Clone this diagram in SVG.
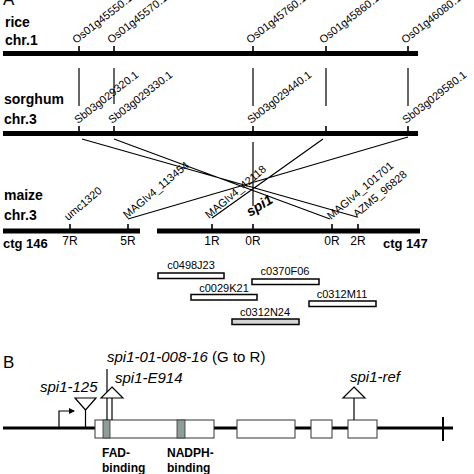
<svg xmlns="http://www.w3.org/2000/svg" width="474" height="474" viewBox="0 0 474 474">
<style>
text{font-family:"Liberation Sans",Arial,sans-serif;fill:#000}
.chr{stroke:#000;stroke-width:5;fill:none}
.tick{stroke:#000;stroke-width:1.6;fill:none}
.lbl{font-size:14px;font-weight:bold}
.mk{font-size:11px}
.pos{font-size:12px;text-anchor:middle}
.con{stroke:#000;stroke-width:1.2;fill:none}
.clone{fill:#fff;stroke:#000;stroke-width:1.5}
.cl{font-size:11px;text-anchor:middle}
.ex{fill:#fff;stroke:#333;stroke-width:1}
.dom{fill:#8e9d99;stroke:#333;stroke-width:0.8}
.it{font-size:15px;font-style:italic}
.tri{fill:#fff;stroke:#000;stroke-width:1.2}
.bl{font-size:12px;font-weight:bold}
</style>
<defs>
<marker id="ah" markerWidth="6" markerHeight="6" refX="5" refY="3" orient="auto" markerUnits="userSpaceOnUse">
<path d="M0,0 L6,3 L0,6 z" fill="#000"/>
</marker>
</defs>

<text x="3" y="5" style="font-size:17px">A</text>

<g id="rice">
<text class="lbl" x="5" y="27">rice</text>
<text class="lbl" x="5" y="45">chr.1</text>
<line class="chr" x1="3" y1="53.5" x2="418" y2="53.5"/>
<path class="tick" d="M79,46V53 M114,46V53 M253,46V53 M326,46V53 M408,46V53"/>
<text class="mk" transform="translate(76,44) rotate(-38)">Os01g45550.1</text>
<text class="mk" transform="translate(111,44) rotate(-38)">Os01g45570.1</text>
<text class="mk" transform="translate(250,44) rotate(-38)">Os01g45760.1</text>
<text class="mk" transform="translate(323,44) rotate(-38)">Os01g45860.1</text>
<text class="mk" transform="translate(405,44) rotate(-38)">Os01g46080.1</text>
</g>

<g id="sorghum">
<text class="lbl" x="4" y="104">sorghum</text>
<text class="lbl" x="4" y="124">chr.3</text>
<line class="chr" x1="3" y1="133.5" x2="418" y2="133.5"/>
<path class="tick" d="M79,126V133 M114,126V133 M253,126V133 M326,126V133 M408,126V133"/>
<text class="mk" transform="translate(78,124) rotate(-38)">Sb03g029320.1</text>
<text class="mk" transform="translate(112,124) rotate(-38)">Sb03g029330.1</text>
<text class="mk" transform="translate(251,124) rotate(-38)">Sb03g029440.1</text>
<text class="mk" transform="translate(406,124) rotate(-38)">Sb03g029580.1</text>
</g>

<g id="maize">
<text class="lbl" x="4" y="200">maize</text>
<text class="lbl" x="4" y="220">chr.3</text>
<line class="chr" x1="3" y1="231" x2="140" y2="231"/>
<line class="chr" x1="157" y1="231" x2="420" y2="231"/>
<path class="tick" d="M70,224V231 M128,224V231 M212,224V231 M253,224V231 M332,224V231 M358,224V231"/>
<text class="mk" transform="translate(68,221) rotate(-40)">umc1320</text>
<text class="mk" transform="translate(127,219) rotate(-40)">MAGIv4_113454</text>
<text class="mk" transform="translate(209,219) rotate(-40)">MAGIv4_42118</text>
<text transform="translate(250,217) rotate(-32)" style="font-size:14px;font-weight:bold;font-style:italic">spi1</text>
<text class="mk" transform="translate(331,220) rotate(-40)">MAGIv4_101701</text>
<text class="mk" transform="translate(357,218) rotate(-40)">AZM5_96828</text>
<text class="pos" x="70" y="245">7R</text>
<text class="pos" x="128" y="245">5R</text>
<text class="pos" x="212" y="245">1R</text>
<text class="pos" x="253" y="245">0R</text>
<text class="pos" x="332" y="245">0R</text>
<text class="pos" x="358" y="245">2R</text>
<text class="lbl" x="3" y="248" style="font-size:13px">ctg 146</text>
<text class="lbl" x="383" y="248" style="font-size:13px">ctg 147</text>
</g>

<g id="connectors">
<path class="con" d="M79,68V106 M114,68V104 M253,68V106 M326,68V106 M408,68V106"/>
<path class="con" d="M82,139L357,217 M114,139L330,219 M323,139L212,218 M408,137L128,219 M253,142V206"/>
</g>

<g id="clones">
<text class="cl" x="191" y="269">c0498J23</text>
<rect class="clone" x="158" y="273" width="66" height="5.5"/>
<text class="cl" x="285" y="275">c0370F06</text>
<rect class="clone" x="252" y="279" width="67" height="5.5"/>
<text class="cl" x="224" y="292">c0029K21</text>
<rect class="clone" x="191" y="294.5" width="66" height="5.5"/>
<text class="cl" x="342" y="298">c0312M11</text>
<rect class="clone" x="309" y="301" width="67" height="5.5"/>
<text class="cl" x="265" y="316">c0312N24</text>
<rect class="clone" x="232" y="319" width="67" height="5.5" style="fill:#d4d4d4"/>
</g>

<text x="3" y="368" style="font-size:17px">B</text>

<g id="gene">
<line x1="3" y1="428" x2="453" y2="428" stroke="#000" stroke-width="3"/>
<line x1="443" y1="417" x2="443" y2="441" stroke="#000" stroke-width="2"/>
<rect class="ex" x="95" y="420" width="119" height="18"/>
<rect class="dom" x="103" y="420" width="7" height="18"/>
<rect class="dom" x="177" y="420" width="8" height="18"/>
<rect class="ex" x="237" y="420" width="58" height="18"/>
<rect class="ex" x="311" y="420" width="21" height="18"/>
<rect class="ex" x="348" y="420" width="29" height="18"/>
<text class="bl" x="102" y="457">FAD-</text>
<text class="bl" x="102" y="472">binding</text>
<text class="bl" x="167" y="457">NADPH-</text>
<text class="bl" x="167" y="472">binding</text>
</g>

<g id="promoter">
<path d="M59,428V411H74" fill="none" stroke="#000" stroke-width="1.2" marker-end="url(#ah)"/>
</g>

<g id="spi1-125">
<text class="it" x="40" y="392">spi1-125</text>
<path class="tri" d="M75,398H96L85.5,410Z"/>
<line x1="85.5" y1="410" x2="85.5" y2="428" stroke="#000" stroke-width="1.2"/>
</g>

<g id="spi1-01-008-16">
<text class="it" x="107" y="362">spi1-01-008-16<tspan style="font-style:normal"> (G to R)</tspan></text>
<line x1="107" y1="369" x2="107" y2="420" stroke="#000" stroke-width="1.2"/>
</g>

<g id="spi1-E914">
<text class="it" x="115" y="383">spi1-E914</text>
<path class="tri" d="M112,387L123,398H101Z"/>
<line x1="112" y1="398" x2="112" y2="420" stroke="#000" stroke-width="1.2"/>
</g>

<g id="spi1-ref">
<text class="it" x="350" y="382">spi1-ref</text>
<path class="tri" d="M354,387L365,398H343Z"/>
<line x1="354" y1="398" x2="354" y2="420" stroke="#000" stroke-width="1.2"/>
</g>
</svg>
